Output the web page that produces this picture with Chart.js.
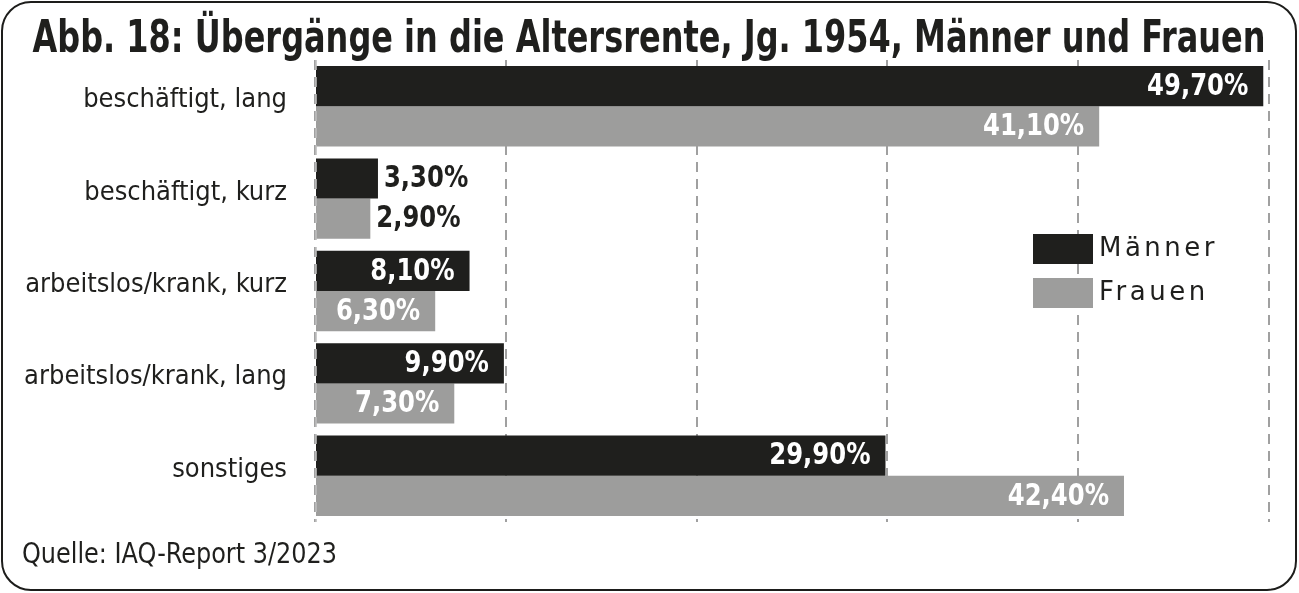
<!DOCTYPE html>
<html>
<head>
<meta charset="utf-8">
<script src="https://cdn.jsdelivr.net/npm/chart.js@4.4.1/dist/chart.umd.min.js"></script>
<style>
  html, body { margin: 0; padding: 0; background: #fff; }
  #wrap { position: relative; width: 1299px; height: 593px; }
  #frame {
    position: absolute; left: 1px; top: 1px; width: 1296px; height: 590px;
    border: 2px solid #1d1d1b; border-radius: 30px; box-sizing: border-box;
  }
  canvas { position: absolute; left: 0; top: 0; }
</style>
</head>
<body>
<div id="wrap">
  <div id="frame"></div>
  <canvas id="chart" width="1299" height="593"></canvas>
</div>
<script>
var categories = ["beschäftigt, lang", "beschäftigt, kurz", "arbeitslos/krank, kurz", "arbeitslos/krank, lang", "sonstiges"];
var maenner = [49.7, 3.3, 8.1, 9.9, 29.9];
var frauen = [41.1, 2.9, 6.3, 7.3, 42.4];
var seriesNames = ["Männer", "Frauen"];
var titleText = "Abb. 18: Übergänge in die Altersrente, Jg. 1954, Männer und Frauen";
var sourceText = "Quelle: IAQ-Report 3/2023";

var NARROW = '"Liberation Sans Narrow", "DejaVu Sans Condensed", sans-serif';
var dark = "#1f1f1d";
var grey = "#9d9d9c";

function fmt(v) {
    return v.toFixed(2).replace(".", ",") + "%";
}

// squeezed text, the original uses a condensed face
function narrowText(ctx, txt, x, y, sx) {
    ctx.save();
    ctx.translate(x, y);
    ctx.scale(sx, 1);
    ctx.fillText(txt, 0, 0);
    ctx.restore();
}

var extras = {
    id: "extras",
    afterDatasetsDraw: function (chart) {
        var ctx = chart.ctx;
        var area = chart.chartArea;
        ctx.save();

        // dashed zero line stays visible over the bars
        var x0 = chart.scales.x.getPixelForValue(0);
        ctx.strokeStyle = "rgba(190,190,190,0.8)";
        ctx.lineWidth = 2;
        ctx.setLineDash([10, 7]);
        ctx.beginPath();
        ctx.moveTo(x0 + 1, area.top);
        ctx.lineTo(x0 + 1, area.bottom);
        ctx.stroke();
        ctx.setLineDash([]);

        // title
        ctx.font = "bold 44px " + NARROW;
        ctx.fillStyle = dark;
        ctx.textAlign = "center";
        ctx.textBaseline = "alphabetic";
        var tw = ctx.measureText(titleText).width;
        narrowText(ctx, titleText, 649, 52, Math.min(1, 1233 / tw));

        // value labels
        ctx.font = "bold 30px " + NARROW;
        ctx.textBaseline = "middle";
        var sx = 0.9;
        chart.data.datasets.forEach(function (ds, i) {
            chart.getDatasetMeta(i).data.forEach(function (bar, j) {
                var txt = fmt(ds.data[j]);
                var w = ctx.measureText(txt).width * sx;
                var len = bar.x - bar.base;
                if (len > w + 24) {
                    ctx.fillStyle = "#fff";
                    ctx.textAlign = "right";
                    narrowText(ctx, txt, bar.x - 15, bar.y + 1, sx);
                } else {
                    ctx.fillStyle = dark;
                    ctx.textAlign = "left";
                    narrowText(ctx, txt, bar.x + 6, bar.y + 1, sx);
                }
            });
        });

        // legend
        ctx.font = "26px 'DejaVu Sans', sans-serif";
        ctx.textAlign = "left";
        [dark, grey].forEach(function (c, i) {
            var y = 234 + i * 44;
            ctx.fillStyle = c;
            ctx.fillRect(1033, y, 60, 30);
            ctx.fillStyle = dark;
            ctx.letterSpacing = "3.5px";
            ctx.fillText(seriesNames[i], 1099, y + 15);
        });
        ctx.letterSpacing = "0px";

        // source
        ctx.font = "28px " + NARROW;
        ctx.fillStyle = dark;
        ctx.textBaseline = "middle";
        var sw = ctx.measureText(sourceText).width;
        narrowText(ctx, sourceText, 22, 556, Math.min(1, 315 / sw));
        ctx.restore();
    }
};

new Chart(document.getElementById("chart"), {
    type: "bar",
    data: {
        labels: categories,
        datasets: [
            { label: seriesNames[0], backgroundColor: dark, data: maenner },
            { label: seriesNames[1], backgroundColor: grey, data: frauen }
        ]
    },
    options: {
        indexAxis: "y",
        responsive: false,
        animation: false,
        categoryPercentage: 0.87,
        barPercentage: 1.0,
        layout: { padding: { left: 0, right: 30, top: 60, bottom: 71 } },
        scales: {
            x: {
                min: 0, max: 50,
                ticks: { display: false, stepSize: 10 },
                border: { display: false, dash: [10, 7] },
                grid: { color: "#a0a0a0", lineWidth: 2, drawTicks: false }
            },
            y: {
                afterFit: function (scale) { scale.width = 315; },
                border: { display: false },
                grid: { display: false, drawTicks: false },
                ticks: {
                    color: dark,
                    padding: 28,
                    labelOffset: -6,
                    font: { family: NARROW, size: 27 }
                }
            }
        },
        plugins: {
            legend: { display: false },
            tooltip: { enabled: false },
            title: { display: false }
        }
    },
    plugins: [extras]
});
</script>
</body>
</html>
